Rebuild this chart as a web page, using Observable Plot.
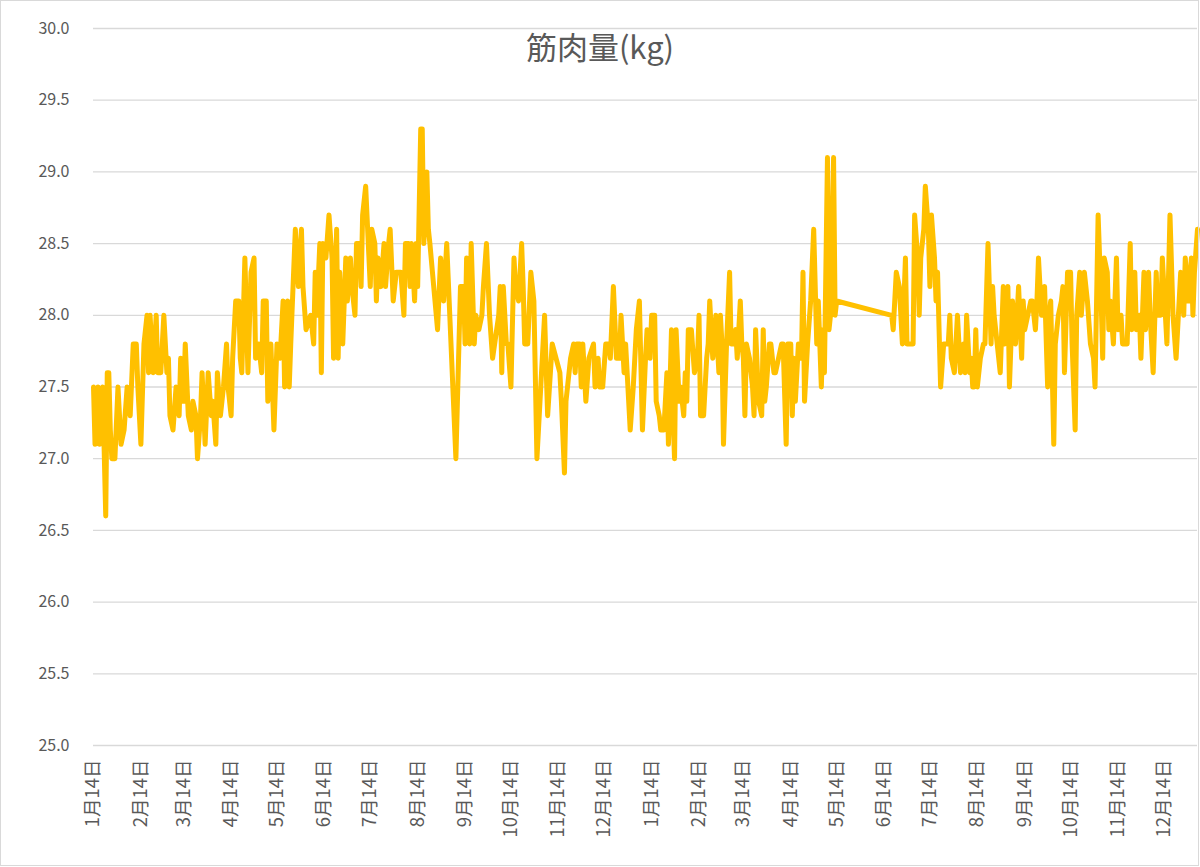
<!DOCTYPE html>
<html>
<head>
<meta charset="utf-8">
<script src="https://cdn.jsdelivr.net/npm/d3@7"></script>
<script src="https://cdn.jsdelivr.net/npm/@observablehq/plot@0.6"></script>
<style>
  html, body { margin: 0; padding: 0; background: #ffffff; }
  #chart { position: relative; width: 1200px; height: 867px; overflow: hidden; background: #fff; }
  #frame { position: absolute; left: 0; top: 0; width: 1199px; height: 866px; box-sizing: border-box;
           border: 1px solid #d9d9d9; pointer-events: none; }
  #title { position: absolute; left: 0; top: 28px; width: 1200px; text-align: center;
           font-family: "Noto Sans CJK JP", sans-serif; font-size: 31px; line-height: 36px; color: #595959; }
  #chart svg { position: absolute; left: 0; top: 0; }
</style>
</head>
<body>
<div id="chart"><div id="title">筋肉量(kg)</div><div id="frame"></div></div>
<script>
// First reading date; readings are [days since startDate, kg]
const startDate = "2019-01-14";
const chartEndDay = 722;

// First year of readings (Jan 14 – Jan 13)
const firstYear = [
  [0,27.5],[1,27.1],[3,27.5],[4,27.1],[6,27.5],[8,26.6],[9,27.6],[10,27.6],[11,27.2],[12,27.0],
  [14,27.0],[16,27.5],[18,27.1],[20,27.2],[22,27.5],[24,27.3],[26,27.8],[28,27.8],[29,27.5],[31,27.1],
  [33,27.8],[35,28.0],[36,27.6],[37,28.0],[39,27.6],[41,28.0],[42,27.6],[44,27.6],[46,28.0],[48,27.6],
  [49,27.7],[50,27.3],[52,27.2],[54,27.5],[56,27.3],[57,27.7],[59,27.4],[60,27.8],[62,27.3],[64,27.2],
  [65,27.4],[67,27.3],[68,27.0],[70,27.3],[71,27.6],[73,27.1],[75,27.6],[77,27.3],[78,27.4],[80,27.1],
  [81,27.6],[83,27.3],[85,27.5],[87,27.8],[88,27.5],[90,27.3],[91,27.7],[93,28.1],[95,28.1],[96,27.7],
  [97,27.6],[99,28.4],[101,27.6],[103,28.3],[105,28.4],[106,27.7],[108,27.8],[110,27.6],[111,28.1],[113,28.1],
  [114,27.4],[116,27.8],[118,27.2],[120,27.8],[122,27.7],[124,28.1],[125,27.5],[127,28.1],[128,27.5],[129,27.8],
  [132,28.6],[134,28.2],[136,28.6],[137,28.2],[139,27.9],[142,28.0],[144,27.8],[145,28.3],[146,28.0],[148,28.5],
  [149,27.6],[150,28.5],[152,28.4],[154,28.7],[156,28.4],[157,27.7],[159,28.6],[160,27.7],[161,28.3],[163,27.8],
  [165,28.4],[166,28.1],[168,28.4],[169,28.2],[171,28.0],[172,28.5],[174,28.5],[175,28.2],[176,28.7],[178,28.9],
  [181,28.2],[182,28.6],[184,28.5],[185,28.1],[186,28.4],[188,28.2],[190,28.5],[191,28.2],[193,28.5],[194,28.6],
  [196,28.1],[198,28.3],[201,28.3],[203,28.0],[204,28.5],[206,28.5],[207,28.2],[208,28.5],[210,28.1],[211,28.5],
  [212,28.2],[214,29.3],[215,29.3],[216,28.5],[218,29.0],[219,28.6],[220,28.5],[225,27.9],[227,28.4],[229,28.1],
  [231,28.5],[237,27.0],[240,28.2],[242,28.2],[243,27.8],[244,28.4],[246,27.8],[247,28.5],[249,27.8],[250,28.0],
  [252,27.9],[254,28.0],[255,28.2],[257,28.5],[259,28.0],[261,27.7],[265,28.0],[266,28.2],[267,27.6],[268,28.2],
  [270,27.8],[271,27.8],[273,27.5],[275,28.4],[276,28.2],[278,28.1],[280,28.5],[281,28.2],[282,27.8],[284,27.8],
  [286,28.3],[287,28.2],[288,28.1],[290,27.0],[295,28.0],[297,27.3],[300,27.8],[305,27.6],[306,27.4],[308,26.9],
  [309,27.4],[312,27.7],[314,27.8],[315,27.6],[316,27.8],[318,27.8],[319,27.5],[320,27.8],[322,27.4],[324,27.7],
  [327,27.8],[328,27.5],[330,27.7],[331,27.5],[333,27.5],[335,27.8],[337,27.8],[338,27.7],[340,28.2],[342,27.7],
  [344,27.7],[345,28.0],[347,27.6],[348,27.8],[351,27.2],[353,27.5],[355,27.9],[357,28.1],[359,27.2],[361,27.7],
  [362,27.9],[364,27.7]
];

// Second year of readings (Jan 14 onward)
const secondYear = [
  [365,28.0],[367,28.0],[368,27.4],[370,27.3],[371,27.2],[373,27.2],[375,27.6],[376,27.1],[378,27.9],[379,27.3],
  [380,27.0],[381,27.9],[383,27.4],[384,27.5],[386,27.3],[387,27.6],[388,27.4],[389,27.9],[391,27.9],[393,27.6],
  [395,27.7],[396,28.0],[397,27.3],[399,27.3],[401,27.7],[402,27.8],[403,28.1],[405,27.7],[406,27.8],[407,28.0],
  [409,27.6],[410,28.0],[411,27.8],[412,27.1],[414,27.8],[416,28.3],[417,27.8],[418,27.8],[420,27.9],[421,27.7],
  [423,28.1],[424,27.8],[425,27.7],[426,27.3],[427,27.8],[429,27.7],[431,27.5],[432,27.3],[433,27.9],[435,27.4],
  [437,27.3],[438,27.9],[439,27.4],[440,27.5],[442,27.8],[443,27.8],[445,27.6],[446,27.6],[448,27.7],[450,27.8],
  [451,27.8],[453,27.1],[454,27.8],[456,27.8],[457,27.3],[458,27.7],[459,27.4],[461,27.8],[463,27.7],[464,28.3],
  [465,27.4],[467,27.8],[469,28.1],[471,28.6],[473,27.8],[474,28.1],[476,27.5],[477,27.9],[478,27.6],[480,29.1],
  [481,27.9],[482,28.0],[484,29.1],[485,28.0],[486,28.1],[522,28.0],[523,27.9],[525,28.3],[527,28.2],[529,27.8],
  [531,28.4],[532,27.8],[534,27.8],[536,27.8],[537,28.7],[539,28.4],[540,28.0],[541,28.4],[543,28.6],[544,28.9],
  [546,28.6],[547,28.2],[548,28.7],[550,28.4],[551,28.1],[552,28.3],[554,27.5],[556,27.8],[557,27.8],[559,27.8],
  [560,28.0],[561,27.7],[563,27.6],[565,28.0],[566,27.8],[567,27.6],[569,27.8],[570,27.6],[571,28.0],[573,27.6],
  [574,27.7],[575,27.5],[576,27.5],[577,27.9],[578,27.5],[580,27.7],[582,27.8],[583,27.8],[585,28.5],[587,27.8],
  [588,28.2],[589,28.0],[591,27.8],[593,27.6],[595,28.2],[596,27.8],[598,28.2],[599,27.5],[601,28.1],[603,27.8],
  [605,28.2],[607,27.7],[608,28.1],[609,27.9],[611,28.0],[613,28.1],[614,28.1],[616,27.9],[617,28.1],[618,28.4],
  [620,28.0],[621,28.0],[622,28.2],[624,27.5],[625,28.0],[626,28.1],[628,27.1],[629,27.8],[631,28.0],[633,28.1],
  [634,28.2],[635,27.6],[637,28.3],[639,28.3],[640,27.8],[642,27.2],[643,28.0],[645,28.3],[646,28.0],[648,28.3],
  [650,28.1],[652,27.8],[654,27.7],[655,27.5],[657,28.7],[659,28.1],[660,27.7],[661,28.4],[663,28.3],[664,27.9],
  [665,28.1],[667,27.8],[669,28.4],[670,27.9],[672,28.0],[673,27.8],[675,27.8],[676,27.8],[678,28.5],[679,27.9],
  [681,28.3],[682,27.9],[684,28.0],[685,27.7],[687,28.3],[688,27.9],[690,28.3],[691,28.0],[693,27.6],[695,28.3],
  [696,28.0],[698,28.0],[699,28.4],[701,28.0],[702,27.8],[704,28.7],[706,28.0],[708,27.7],[710,28.1],[711,28.3],
  [713,28.0],[714,28.4],[716,28.1],[718,28.4],[719,28.0],[720,28.3],[722,28.6]
];

const tickDates = [
  "2019-01-14","2019-02-14","2019-03-14","2019-04-14","2019-05-14","2019-06-14",
  "2019-07-14","2019-08-14","2019-09-14","2019-10-14","2019-11-14","2019-12-14",
  "2020-01-14","2020-02-14","2020-03-14","2020-04-14","2020-05-14","2020-06-14",
  "2020-07-14","2020-08-14","2020-09-14","2020-10-14","2020-11-14","2020-12-14"
];
const tickLabels = [
  "1月14日","2月14日","3月14日","4月14日","5月14日","6月14日",
  "7月14日","8月14日","9月14日","10月14日","11月14日","12月14日",
  "1月14日","2月14日","3月14日","4月14日","5月14日","6月14日",
  "7月14日","8月14日","9月14日","10月14日","11月14日","12月14日"
];
const yTicks = [25.0, 25.5, 26.0, 26.5, 27.0, 27.5, 28.0, 28.5, 29.0, 29.5, 30.0];
const yDomain = [25, 30];

const start = new Date(startDate + "T00:00:00Z");
const data = firstYear.concat(secondYear).map(([d, kg]) => ({date: d3.utcDay.offset(start, d), kg}));
const tickObjs = tickDates.map(s => new Date(s + "T00:00:00Z"));
const labelByTime = new Map(tickObjs.map((t, i) => [+t, tickLabels[i]]));

const chart = Plot.plot({
  width: 1200,
  height: 867,
  marginLeft: 93,
  marginRight: 3,
  marginTop: 28,
  marginBottom: 122,
  style: {fontFamily: '"Noto Sans CJK JP", "Noto Sans", sans-serif', color: "#595959", background: "transparent", overflow: "visible"},
  x: {type: "utc", domain: [start, d3.utcDay.offset(start, chartEndDay)], label: null},
  y: {domain: yDomain, label: null},
  marks: [
    Plot.gridY(yTicks, {stroke: "#d9d9d9", strokeOpacity: 1, strokeWidth: 1.3}),
    Plot.axisY(yTicks, {tickSize: 0, tickPadding: 24, tickFormat: d => d.toFixed(1), fontSize: 16, fill: "#595959"}),
    Plot.axisX(tickObjs, {tickSize: 0, tickPadding: 14, tickRotate: -90, tickFormat: d => labelByTime.get(+d), fontSize: 18.5, fill: "#595959"}),
    Plot.lineY(data, {x: "date", y: "kg", stroke: "#FFC000", strokeWidth: 5, strokeLinejoin: "round", strokeLinecap: "round"})
  ]
});
document.getElementById("chart").insertBefore(chart, document.getElementById("title"));
</script>
</body>
</html>
